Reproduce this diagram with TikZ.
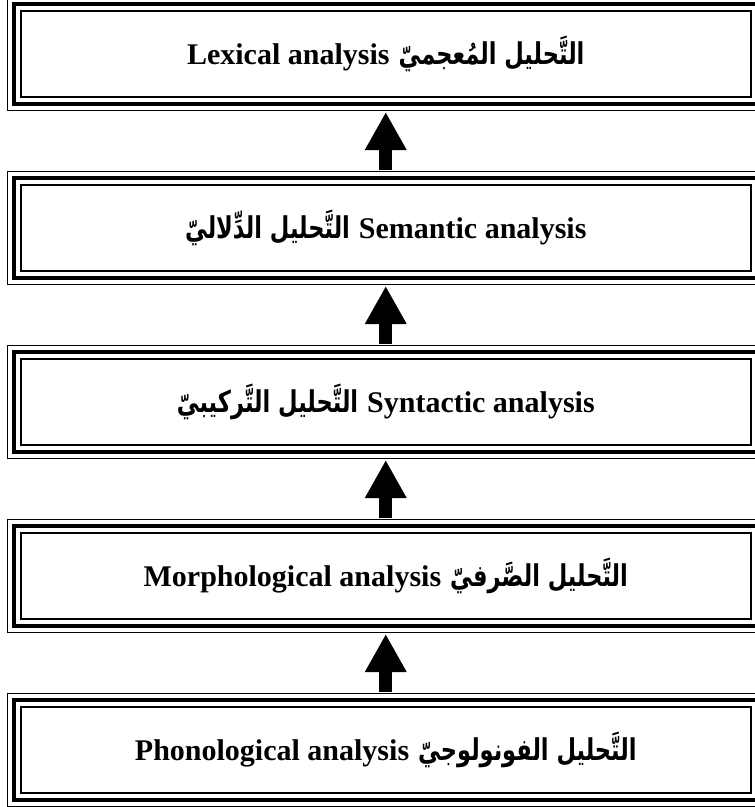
\documentclass[tikz,border=0pt]{standalone}
\usepackage{fontspec}
\setmainfont{Liberation Serif}
\newfontfamily\arabicfont[Script=Arabic]{DejaVu Sans}
\TeXXeTstate=1
\usetikzlibrary{arrows.meta}

% English label and Arabic phrase, set side by side
\newcommand{\en}[1]{{\fontsize{30}{34}\selectfont\bfseries #1}}
\newcommand{\ar}[1]{\scalebox{0.9}[1.2]{\fontsize{25}{32}\selectfont\arabicfont\bfseries\beginR #1\endR}}
\newcommand{\gap}{\hspace{9pt}}

\tikzset{
  stagebox/.style={draw, line width=2pt, minimum width=729.5pt, minimum height=86pt,
    inner sep=0pt, outer sep=0pt, fill=white},
  midframe/.style={line width=4.5pt},
  outframe/.style={line width=1.6pt},
  uparrow/.style={line width=13pt, -{Triangle[width=39pt,length=38pt]}}
}

\begin{document}
\begin{tikzpicture}[x=1pt, y=-1pt]
  \useasboundingbox (0,0) rectangle (755,807);

  \node[stagebox] (b1) at (385.75,54)  {\en{Lexical analysis}\gap\ar{التَّحليل المُعجميّ}};
  \node[stagebox] (b2) at (385.75,228) {\ar{التَّحليل الدِّلاليّ}\gap\en{Semantic analysis}};
  \node[stagebox] (b3) at (385.75,402) {\ar{التَّحليل التَّركيبيّ}\gap\en{Syntactic analysis}};
  \node[stagebox] (b4) at (385.75,576) {\en{Morphological analysis}\gap\ar{التَّحليل الصَّرفيّ}};
  \node[stagebox] (b5) at (385.75,750) {\en{Phonological analysis}\gap\ar{التَّحليل الفونولوجيّ}};

  % triple frame: inner thin line (node border), thick middle line, thin outer line
  \foreach \b in {b1,b2,b3,b4,b5}{
    \draw[midframe] ([shift={(-7pt,7pt)}]\b.north west) rectangle ([shift={(7pt,-7pt)}]\b.south east);
    \draw[outframe] ([shift={(-13.5pt,13.5pt)}]\b.north west) rectangle ([shift={(13.5pt,-13.5pt)}]\b.south east);
  }

  % upward flow arrows between the stages
  \draw[uparrow] ([yshift=15pt]b2.north) -- ([yshift=-15pt]b1.south);
  \draw[uparrow] ([yshift=15pt]b3.north) -- ([yshift=-15pt]b2.south);
  \draw[uparrow] ([yshift=15pt]b4.north) -- ([yshift=-15pt]b3.south);
  \draw[uparrow] ([yshift=15pt]b5.north) -- ([yshift=-15pt]b4.south);
\end{tikzpicture}
\end{document}
